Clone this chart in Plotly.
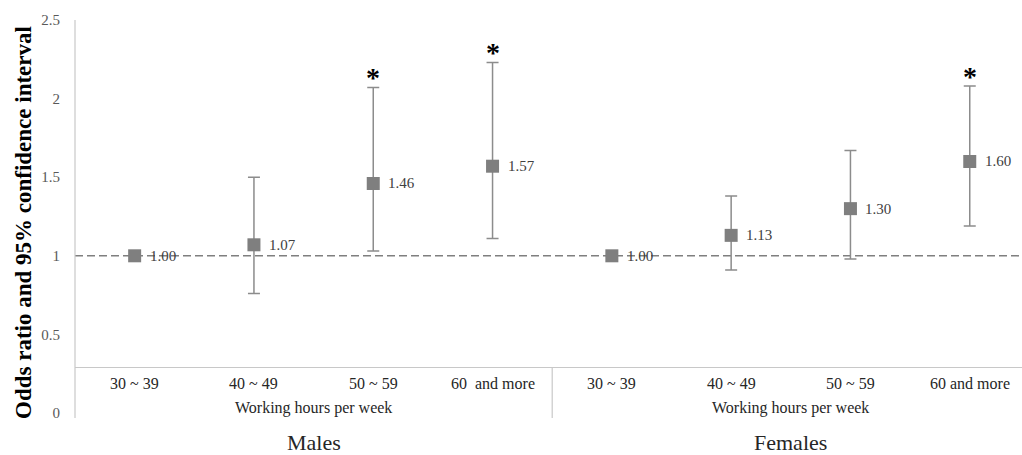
import plotly.graph_objects as go

# ---- data ----
categories = ["30 ~ 39", "40 ~ 49", "50 ~ 59", "60  and more",
              "30 ~ 39", "40 ~ 49", "50 ~ 59", "60 and more"]
groups = ["Males", "Females"]
group_axis_label = "Working hours per week"
odds = [1.00, 1.07, 1.46, 1.57, 1.00, 1.13, 1.30, 1.60]
ci_low = [None, 0.76, 1.03, 1.11, None, 0.91, 0.98, 1.19]
ci_high = [None, 1.50, 2.07, 2.23, None, 1.38, 1.67, 2.08]
significant = [False, False, True, True, False, False, False, True]
y_ticks = [0, 0.5, 1, 1.5, 2, 2.5]
y_tick_text = ["0", "0.5", "1", "1.5", "2", "2.5"]
reference_value = 1.0

# ---- derived ----
xpos = [i + 1 for i in range(len(categories))]
err_plus = [None if h is None else h - o for h, o in zip(ci_high, odds)]
err_minus = [None if l is None else o - l for l, o in zip(ci_low, odds)]

SERIF = "Liberation Serif"
W, H = 1022, 455
ML, MR, MT, MB = 75, 0, 20, 42
plot_h = H - MT - MB
cat_w = 119.3
x_hi = 0.5 + (W - ML - MR) / cat_w


def py(pixel_y):
    """pixel row -> paper y"""
    return (H - MB - pixel_y) / plot_h


fig = go.Figure()

fig.add_trace(go.Scatter(
    x=xpos, y=odds, mode="markers",
    marker=dict(symbol="square", size=13, color="#7f7f7f"),
    error_y=dict(type="data", symmetric=False, array=err_plus, arrayminus=err_minus,
                 color="#8c8c8c", thickness=1.5, width=6),
    showlegend=False, hoverinfo="skip",
))

annotations = []
# data labels
for x, o in zip(xpos, odds):
    annotations.append(dict(x=x, y=o, xref="x", yref="y", text=f"{o:.2f}",
                            showarrow=False, xanchor="left", yanchor="middle",
                            xshift=13, font=dict(family=SERIF, size=15, color="#404040")))
# significance stars
for x, h, s in zip(xpos, ci_high, significant):
    if s:
        annotations.append(dict(x=x, y=h, xref="x", yref="y", text="<b>*</b>",
                                showarrow=False, xanchor="center", yanchor="middle",
                                yshift=10, font=dict(family=SERIF, size=28, color="#000000")))
# category labels
for x, c in zip(xpos, categories):
    annotations.append(dict(x=x, y=py(383), xref="x", yref="paper", text=c,
                            showarrow=False, xanchor="center", yanchor="middle",
                            font=dict(family=SERIF, size=16, color="#262626")))
# group axis labels and group names
n_per = len(categories) // len(groups)
for g, name in enumerate(groups):
    xc = g * n_per + (n_per + 1) / 2
    annotations.append(dict(x=xc, y=py(408), xref="x", yref="paper", text=group_axis_label,
                            showarrow=False, xanchor="center", yanchor="middle",
                            font=dict(family=SERIF, size=16, color="#262626")))
    annotations.append(dict(x=xc, y=py(443), xref="x", yref="paper", text=name,
                            showarrow=False, xanchor="center", yanchor="middle",
                            font=dict(family=SERIF, size=22, color="#262626")))
# y title
annotations.append(dict(x=(23 - ML) / (W - ML - MR), y=py(223), xref="paper", yref="paper",
                        text="<b>Odds ratio and 95% confidence interval</b>", textangle=-90,
                        showarrow=False, xanchor="center", yanchor="middle",
                        font=dict(family=SERIF, size=23, color="#000000")))

shapes = [
    # reference dashed line
    dict(type="line", xref="paper", yref="y", x0=0, x1=1, y0=reference_value, y1=reference_value,
         line=dict(color="#7f7f7f", width=1.5, dash="8px,4px"), layer="below"),
    # y axis line
    dict(type="line", xref="paper", yref="paper", x0=0, x1=0, y0=py(418), y1=1,
         line=dict(color="#c8c8c8", width=1.2)),
    # group separator
    dict(type="line", xref="x", yref="paper", x0=n_per + 0.5, x1=n_per + 0.5,
         y0=py(418), y1=py(367), line=dict(color="#c8c8c8", width=1.2)),
]

fig.update_layout(
    width=W, height=H,
    margin=dict(l=ML, r=MR, t=MT, b=MB),
    plot_bgcolor="white", paper_bgcolor="white",
    xaxis=dict(range=[0.5, x_hi], showgrid=False, zeroline=False, showticklabels=False,
               ticks="", showline=True, linecolor="#c8c8c8", linewidth=1.2,
               anchor="free", position=py(367)),
    yaxis=dict(range=[0, 2.5], tickvals=y_ticks, ticktext=y_tick_text, showgrid=False,
               zeroline=False, showline=False, ticks="", ticklabelstandoff=14,
               tickfont=dict(family=SERIF, size=15, color="#595959")),
    annotations=annotations,
    shapes=shapes,
)

fig.write_html("out.html", config={"displayModeBar": False},
               post_script="document.body.style.margin='0';document.body.style.overflow='hidden';")
